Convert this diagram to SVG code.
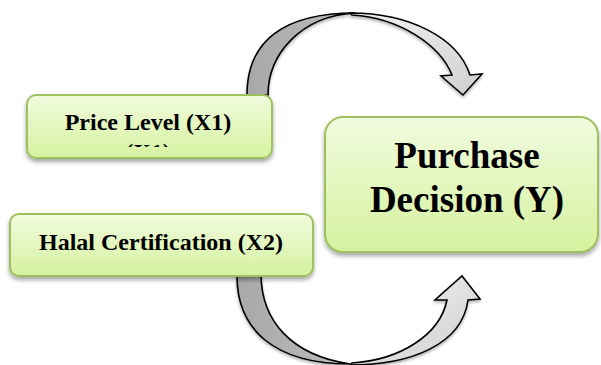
<svg xmlns="http://www.w3.org/2000/svg" width="601" height="365" viewBox="0 0 601 365">
  <defs>
    <linearGradient id="boxFill" x1="0" y1="0" x2="0" y2="1">
      <stop offset="0" stop-color="#f1fbdf"/>
      <stop offset="1" stop-color="#d5f29f"/>
    </linearGradient>
    <linearGradient id="bandDark" x1="0" y1="0" x2="1" y2="0">
      <stop offset="0" stop-color="#a8a8a8"/>
      <stop offset="1" stop-color="#bdbdbd"/>
    </linearGradient>
    <linearGradient id="bandLight" x1="0" y1="0" x2="1" y2="1">
      <stop offset="0" stop-color="#f4f4f4"/>
      <stop offset="1" stop-color="#cfcfcf"/>
    </linearGradient>
    <filter id="shadow" x="-10%" y="-10%" width="120%" height="130%">
      <feDropShadow dx="0" dy="3" stdDeviation="2" flood-color="#000" flood-opacity="0.35"/>
    </filter>
    <filter id="arrowShadow" x="-10%" y="-10%" width="120%" height="130%">
      <feDropShadow dx="0" dy="2" stdDeviation="1.5" flood-color="#000" flood-opacity="0.3"/>
    </filter>
    <clipPath id="clipX1">
      <rect x="27" y="95" width="245" height="52"/>
    </clipPath>
  </defs>
  <style>
    .box { fill: url(#boxFill); stroke: #9fc05e; stroke-width: 2; filter: url(#shadow); }
    .label { font-family: "Liberation Serif", "Times New Roman", serif; font-weight: bold; fill: #000; text-anchor: middle; }
    .band { stroke: #000; stroke-width: 1.6; stroke-linejoin: miter; }
  </style>

  <!-- curved connectors -->
  <g id="connectors" filter="url(#arrowShadow)">
    <g id="arrow-top">
      <path class="band" fill="url(#bandLight)" d="M350,13 C410,13 458,38 470,75 L482,74 L463,95 L441,76 L452,75 C440,45 400,18 352,15 Z"/>
      <path class="band" fill="url(#bandDark)" d="M247,95 C247,40 285,13 355,13 C300,16 268,55 268,95 Z"/>
    </g>
    <g id="arrow-bottom">
      <path class="band" fill="url(#bandLight)" d="M350,365 C410,365 462,345 468,300 L480,299 L462,276 L435,300 L447,300 C440,335 400,360 352,363 Z"/>
      <path class="band" fill="url(#bandDark)" d="M237,276 C237,330 275,364 350,364 C290,355 262,320 261,276 Z"/>
    </g>
  </g>

  <g id="node-x1">
    <rect class="box" x="27" y="95" width="245" height="63" rx="9"/>
    <text class="label" x="148" y="130" font-size="24">Price Level (X1)</text>
    <text class="label" x="148" y="159.5" font-size="24" clip-path="url(#clipX1)">(X1)</text>
  </g>

  <g id="node-x2">
    <rect class="box" x="10" y="214" width="303" height="62" rx="9"/>
    <text class="label" x="161" y="250" font-size="24">Halal Certification (X2)</text>
  </g>

  <g id="node-y">
    <rect class="box" x="325" y="117" width="273" height="135" rx="18"/>
    <text class="label" x="467" y="168" font-size="37">Purchase</text>
    <text class="label" x="467" y="212" font-size="37">Decision (Y)</text>
  </g>
</svg>
